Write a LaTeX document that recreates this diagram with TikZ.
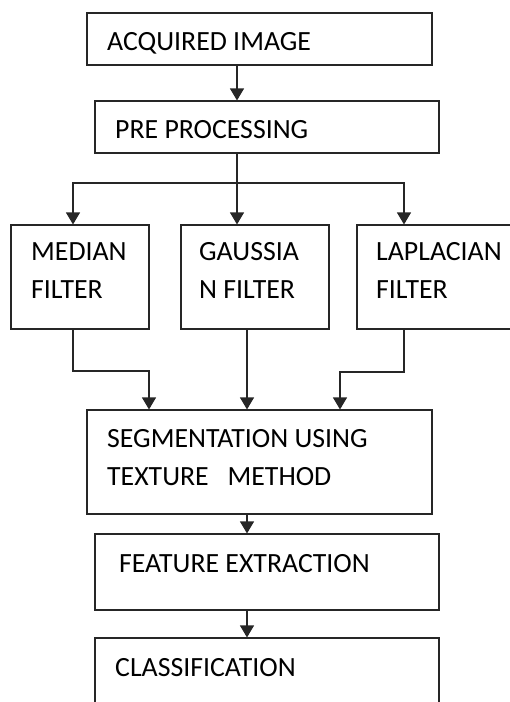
\documentclass[tikz,border=0pt]{standalone}
\usepackage{fontspec}
\setmainfont{Carlito}
\usetikzlibrary{arrows.meta,calc}
\tikzset{
  box/.style={draw=black!85, line width=1.1pt, rectangle, inner sep=0pt},
  lbl/.style={anchor=base west, inner sep=0pt, font=\fontsize{27.8}{38}\selectfont, text=black},
  conn/.style={draw=black!85, line width=1.1pt},
  arr/.style={conn, -{Triangle[width=14pt,length=12pt]}},
}
\begin{document}
\begin{tikzpicture}[x=1pt,y=-1pt]
\useasboundingbox (0,0) rectangle (510,702);
\clip (0,0) rectangle (510,702);
% boxes
\node[box, minimum width=345, minimum height=52] (acq) at (259.5,39) {};
\node[box, minimum width=344, minimum height=52] (pre) at (267,127) {};
\node[box, minimum width=138, minimum height=104] (med) at (80,277) {};
\node[box, minimum width=148, minimum height=104] (gau) at (255,277) {};
\node[box, minimum width=180, minimum height=104] (lap) at (447,277) {};
\node[box, minimum width=345, minimum height=104] (seg) at (259.5,462) {};
\node[box, minimum width=344, minimum height=76] (fea) at (267,572) {};
\node[box, minimum width=344, minimum height=100] (cla) at (267,688) {};
% labels
\node[lbl] (tacq) at (107,50) {ACQUIRED IMAGE};
\node[lbl] (tpre) at (115,138) {PRE PROCESSING};
\node[lbl] (tmed1) at (31,260) {MEDIAN};
\node[lbl] (tmed2) at (31,298) {FILTER};
\node[lbl] (tgau1) at (199,260) {GAUSSIA};
\node[lbl] (tgau2) at (199,298) {N FILTER};
\node[lbl] (tlap1) at (376,260) {LAPLACIAN};
\node[lbl] (tlap2) at (376,298) {FILTER};
\node[lbl] (tseg1) at (107,447) {SEGMENTATION USING};
\node[lbl] (tseg2) at (107,485) {TEXTURE\ \ \ METHOD};
\node[lbl] (tfea) at (119,572) {FEATURE EXTRACTION};
\node[lbl] (tcla) at (115,676) {CLASSIFICATION};
% helper coordinates
\coordinate (xa) at (237,0);
\coordinate (xm) at (73,0);
\coordinate (xl) at (404,0);
\coordinate (xg) at (247,0);
\coordinate (xs1) at (149,0);
\coordinate (xs3) at (340,0);
\coordinate (bus) at (237,183);
\coordinate (jm) at (149,371);
\coordinate (jl) at (340,372);
% connectors
\draw[arr] (acq.south -| xa) -- (pre.north -| xa);
\draw[conn] (pre.south -| xa) -- (bus);
\draw[arr] (bus) -| (med.north -| xm);
\draw[arr] (bus) -- (gau.north -| xa);
\draw[arr] (bus) -| (lap.north -| xl);
\draw[arr] (med.south -| xm) |- (jm) -- (seg.north -| xs1);
\draw[arr] (gau.south -| xg) -- (seg.north -| xg);
\draw[arr] (lap.south -| xl) |- (jl) -- (seg.north -| xs3);
\draw[arr] (seg.south -| xg) -- (fea.north -| xg);
\draw[arr] (fea.south -| xg) -- (cla.north -| xg);
\end{tikzpicture}
\end{document}
